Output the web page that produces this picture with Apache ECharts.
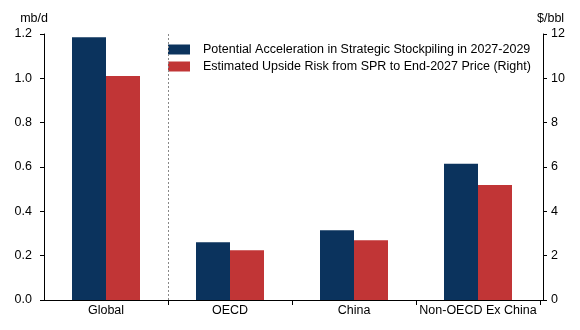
<!DOCTYPE html>
<html>
<head>
<meta charset="utf-8">
<script src="https://cdn.jsdelivr.net/npm/echarts@6/dist/echarts.min.js"></script>
<style>
  html, body { margin: 0; padding: 0; background: #fff; }
  #chart { width: 580px; height: 330px; }
</style>
</head>
<body>
<div id="chart"></div>
<script>
// Regions shown on the category axis
const categories = ['Global', 'OECD', 'China', 'Non-OECD Ex China'];
// Stockpiling acceleration, mb/d (left axis)
const stockpiling = [1.185, 0.26, 0.315, 0.615];
// Price upside risk, $/bbl (right axis)
const priceRisk = [10.1, 2.25, 2.7, 5.19];
// Tick settings
const leftTicks = { min: 0, max: 1.2, interval: 0.2 };
const rightTicks = { min: 0, max: 12, interval: 2 };

const seriesNames = [
  'Potential Acceleration in Strategic Stockpiling in 2027-2029',
  'Estimated Upside Risk from SPR to End-2027 Price (Right)'
];

const font = 'Liberation Sans, Arial, sans-serif';
const fs = 12.5;
const black = { color: '#000', width: 1 };

const chart = echarts.init(document.getElementById('chart'), null, { renderer: 'canvas' });
chart.setOption({
  animation: false,
  textStyle: { fontFamily: font, color: '#000' },
  grid: [
    { left: 44, right: 40, top: 34, bottom: 30 },
    // full-width frame so the baseline runs into both value axes
    { left: 41, right: 37, top: 34, bottom: 30 }
  ],
  legend: {
    orient: 'vertical',
    left: 163,
    top: 38,
    itemWidth: 22,
    itemHeight: 10,
    itemGap: 4,
    icon: 'rect',
    textStyle: { fontFamily: font, fontSize: fs, color: '#000', padding: [0, 0, 0, 8] },
    data: seriesNames
  },
  xAxis: [
    {
      type: 'category',
      gridIndex: 0,
      data: categories,
      axisLine: { show: false },
      axisTick: { show: true, length: 5, interval: (i) => i > 0, lineStyle: black },
      axisLabel: { color: '#000', fontSize: fs, fontFamily: font, margin: 4, interval: 0 },
      splitLine: { show: false }
    },
    {
      type: 'value',
      gridIndex: 0,
      min: 0,
      max: 4,
      show: false
    },
    {
      type: 'value',
      gridIndex: 1,
      min: 0,
      max: 1,
      axisLine: { show: true, onZero: false, lineStyle: black },
      axisTick: { show: false },
      axisLabel: { show: false },
      splitLine: { show: false }
    }
  ],
  yAxis: [
    {
      type: 'value',
      gridIndex: 0,
      min: leftTicks.min,
      max: leftTicks.max,
      interval: leftTicks.interval,
      offset: 3,
      name: 'mb/d',
      nameLocation: 'end',
      nameGap: 9,
      nameTextStyle: { color: '#000', fontSize: fs, fontFamily: font, align: 'right', padding: [0, -4, 0, 0] },
      axisLine: { show: true, lineStyle: black },
      axisTick: { show: true, length: 4, lineStyle: black },
      axisLabel: { color: '#000', fontSize: fs, fontFamily: font, margin: 9,
        formatter: v => v.toFixed(1) },
      splitLine: { show: false }
    },
    {
      type: 'value',
      gridIndex: 0,
      min: rightTicks.min,
      max: rightTicks.max,
      interval: rightTicks.interval,
      offset: 3,
      name: '$/bbl',
      nameLocation: 'end',
      nameGap: 9,
      nameTextStyle: { color: '#000', fontSize: fs, fontFamily: font, align: 'left', padding: [0, 0, 0, -6] },
      axisLine: { show: true, lineStyle: black },
      axisTick: { show: true, length: 4, lineStyle: black },
      axisLabel: { color: '#000', fontSize: fs, fontFamily: font, margin: 8 },
      splitLine: { show: false }
    },
    {
      type: 'value',
      gridIndex: 1,
      min: 0,
      max: 1,
      show: false
    }
  ],
  series: [
    {
      name: seriesNames[0],
      type: 'bar',
      xAxisIndex: 0,
      yAxisIndex: 0,
      data: stockpiling,
      barWidth: 34,
      barGap: '0%',
      itemStyle: { color: '#0b335d' }
    },
    {
      name: seriesNames[1],
      type: 'bar',
      xAxisIndex: 0,
      yAxisIndex: 1,
      data: priceRisk,
      barWidth: 34,
      barGap: '0%',
      itemStyle: { color: '#c13536' }
    },
    {
      // divider between the global total and the regional breakdown
      type: 'line',
      xAxisIndex: 1,
      yAxisIndex: 0,
      data: [],
      silent: true,
      markLine: {
        symbol: 'none',
        silent: true,
        label: { show: false },
        lineStyle: { color: '#888', type: [2, 2], width: 1 },
        data: [{ xAxis: 1 }]
      }
    }
  ]
});
</script>
</body>
</html>
